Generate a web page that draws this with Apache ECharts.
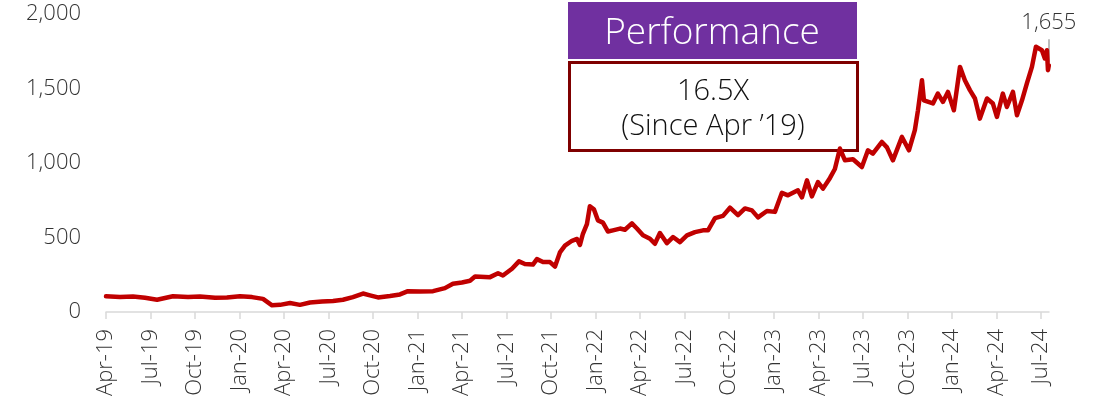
<!DOCTYPE html>
<html>
<head>
<meta charset="utf-8">
<script src="https://cdn.jsdelivr.net/npm/echarts@6/dist/echarts.min.js"></script>
<style>
html,body{margin:0;padding:0;background:#fff;}
#chart{width:1107px;height:402px;}
</style>
</head>
<body>
<div id="chart"></div>
<script>
// x positions: months since Apr-2019
const months = [0.00,0.94,1.82,2.63,3.44,4.51,5.53,6.33,7.35,8.15,9.03,9.84,10.58,11.19,11.73,12.40,13.07,13.75,14.56,15.30,15.97,16.64,17.32,17.79,18.33,19.14,19.81,20.35,21.16,22.04,22.84,23.38,23.99,24.53,24.87,25.88,26.42,26.75,27.36,27.83,28.23,28.77,29.04,29.45,29.92,30.26,30.59,30.93,31.40,31.74,31.94,32.14,32.41,32.61,32.88,33.15,33.49,33.83,34.16,34.64,34.97,35.44,35.78,36.19,36.66,36.99,37.33,37.80,38.21,38.68,39.15,39.69,40.23,40.57,41.04,41.58,42.05,42.59,43.06,43.53,43.94,44.54,45.08,45.55,45.96,46.63,46.90,47.24,47.57,47.98,48.32,48.79,49.12,49.46,49.80,50.34,50.94,51.35,51.68,52.29,52.63,53.03,53.64,54.11,54.51,54.72,54.99,55.12,55.73,56.06,56.40,56.74,57.14,57.55,57.88,58.22,58.56,58.89,59.37,59.77,60.04,60.44,60.71,61.12,61.39,61.73,62.06,62.40,62.67,63.07,63.27,63.41,63.48,63.54];
const values = [105,100,104,95,82,106,100,104,96,97,106,100,88,45,48,60,48,64,70,74,82,100,124,112,98,108,118,140,138,140,160,190,198,210,238,234,260,245,290,340,322,318,355,335,335,305,400,445,478,490,450,525,590,710,690,615,600,540,548,560,552,595,560,515,492,458,530,462,503,469,514,536,548,548,630,645,700,650,695,682,635,678,672,800,783,817,770,884,776,872,828,900,960,1097,1018,1025,973,1085,1063,1141,1105,1018,1175,1085,1220,1354,1556,1421,1400,1466,1410,1477,1354,1645,1556,1489,1433,1298,1433,1399,1309,1466,1376,1477,1321,1421,1534,1645,1780,1757,1702,1757,1623,1655];
const tickMonths = [0,3,6,9,12,15,18,21,24,27,30,33,36,39,42,45,48,51,54,57,60,63];
const tickLabels = ['Apr-19','Jul-19','Oct-19','Jan-20','Apr-20','Jul-20','Oct-20','Jan-21','Apr-21','Jul-21','Oct-21','Jan-22','Apr-22','Jul-22','Oct-22','Jan-23','Apr-23','Jul-23','Oct-23','Jan-24','Apr-24','Jul-24'];
const yTicks = [0,500,1000,1500,2000];
const titleText = 'Performance';
const multipleText = '16.5X';
const sinceText = '(Since Apr \u201919)';

const FONT = '"Open Sans", "DejaVu Sans", sans-serif';
const lastX = months[months.length-1];
const lastV = values[values.length-1];

const chart = echarts.init(document.getElementById('chart'), null, {renderer:'canvas'});
chart.setOption({
  animation:false,
  backgroundColor:'#ffffff',
  grid:{left:106,right:58,top:14,bottom:90,containLabel:false},
  xAxis:{
    type:'value', min:0, max:63.55,
    axisLine:{show:true,lineStyle:{color:'#D9D9D9',width:1.5}},
    axisTick:{show:true,length:7,lineStyle:{color:'#D9D9D9',width:1.5},customValues:tickMonths},
    axisLabel:{
      customValues:tickMonths, rotate:90, margin:17,
      color:'#333333', fontFamily:FONT, fontSize:22, fontWeight:300,
      formatter:function(v){const i=tickMonths.indexOf(Math.round(v));return i>=0?tickLabels[i]:'';}
    },
    splitLine:{show:false}
  },
  yAxis:{
    type:'value', min:yTicks[0], max:yTicks[yTicks.length-1], interval:500,
    axisLine:{show:false}, axisTick:{show:false}, splitLine:{show:false},
    axisLabel:{margin:25,color:'#333333',fontFamily:FONT,fontSize:22,fontWeight:300,
      formatter:function(v){return v.toLocaleString('en-US');}}
  },
  graphic:[
    {type:'rect',z:0,shape:{x:568,y:2,width:289,height:57},style:{fill:'#7030A0'}},
    {type:'text',z:1,x:712,y:33,style:{text:titleText,fill:'#ffffff',font:'300 37px '+FONT,textAlign:'center',textVerticalAlign:'middle'}},
    {type:'rect',z:0,shape:{x:569.5,y:62.5,width:288,height:88},style:{fill:'#ffffff',stroke:'#7F0000',lineWidth:3}},
    {type:'text',z:1,x:713,y:92,style:{text:multipleText,fill:'#111111',font:'300 29px '+FONT,textAlign:'center',textVerticalAlign:'middle'}},
    {type:'text',z:1,x:713,y:127,style:{text:sinceText,fill:'#111111',font:'300 29px '+FONT,textAlign:'center',textVerticalAlign:'middle'}}
  ],
  series:[{
    type:'line', z:5,
    data: months.map((m,i)=>[m,values[i]]),
    showSymbol:false, symbol:'none',
    lineStyle:{color:'#C00000',width:4.5,join:'round',cap:'round'},
    itemStyle:{color:'#C00000'},
    markLine:{
      silent:true, symbol:['none','none'], animation:false,
      lineStyle:{color:'#A6A6A6',width:1.5,type:'solid'},
      label:{show:true,position:'end',distance:6,formatter:function(){return lastV.toLocaleString('en-US');},
        color:'#333333',fontFamily:FONT,fontSize:22,fontWeight:300},
      data:[[{coord:[lastX,lastV+25]},{coord:[lastX,lastV+175]}]]
    }
  }]
});
</script>
</body>
</html>
